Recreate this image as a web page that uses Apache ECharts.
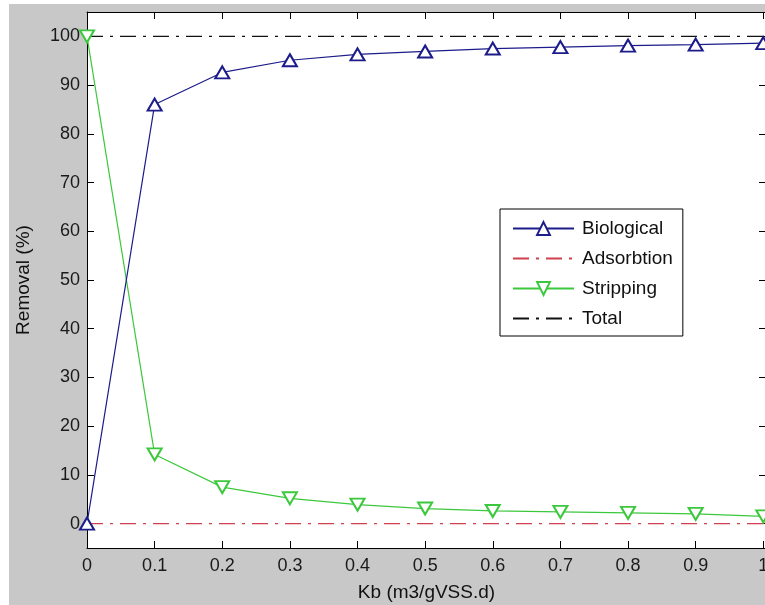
<!DOCTYPE html>
<html>
<head>
<meta charset="utf-8">
<title>Removal vs Kb</title>
<script src="https://cdn.jsdelivr.net/npm/echarts@6/dist/echarts.min.js"></script>
<style>
  html, body { margin: 0; padding: 0; background: #fff; }
  #chart { width: 765px; height: 605px; }
</style>
</head>
<body>
<div id="chart"></div>
<script>
var kb         = [0, 0.1, 0.2, 0.3, 0.4, 0.5, 0.6, 0.7, 0.8, 0.9, 1];
var biological = [0, 86.0, 92.6, 95.1, 96.3, 96.9, 97.5, 97.8, 98.1, 98.3, 98.6];
var adsorption = [0, 0, 0, 0, 0, 0, 0, 0, 0, 0, 0];
var stripping  = [100, 14.2, 7.5, 5.2, 3.9, 3.1, 2.6, 2.4, 2.2, 2.0, 1.5];
var total      = [100, 100, 100, 100, 100, 100, 100, 100, 100, 100, 100];

var xTicks  = [0, 0.1, 0.2, 0.3, 0.4, 0.5, 0.6, 0.7, 0.8, 0.9, 1];
var xLabels = ['0', '0.1', '0.2', '0.3', '0.4', '0.5', '0.6', '0.7', '0.8', '0.9', '1'];
var yTicks  = [0, 10, 20, 30, 40, 50, 60, 70, 80, 90, 100];

var font = 'Liberation Sans, Arial, sans-serif';
var dashDot = [16, 7, 3, 7];

function pairs(ys) {
  var out = [];
  for (var i = 0; i < kb.length; i++) out.push([kb[i], ys[i]]);
  return out;
}

function xLabel(v) {
  for (var i = 0; i < xTicks.length; i++) {
    if (Math.abs(xTicks[i] - v) < 1e-6) return xLabels[i];
  }
  return '';
}

var chart = echarts.init(document.getElementById('chart'), null, { renderer: 'canvas' });

// matlab style box: ticks inward on all four sides
var axisLine = { onZero: false, lineStyle: { color: '#000', width: 1 } };
var tickX = { inside: true, length: 7, customValues: xTicks, lineStyle: { color: '#000' } };
var tickY = { inside: true, length: 7, customValues: yTicks, lineStyle: { color: '#000' } };

var option = {
  backgroundColor: '#c8c8c8',
  animation: false,
  textStyle: { fontFamily: font },
  graphic: [
    { type: 'rect', left: 0, top: 0, shape: { width: 9, height: 605 }, style: { fill: '#fff' }, silent: true },
    { type: 'rect', left: 0, top: 0, shape: { width: 765, height: 4 }, style: { fill: '#fff' }, silent: true }
  ],
  grid: {
    left: 87, right: -1, top: 12, bottom: 57,
    outerBoundsMode: 'none',
    show: true, backgroundColor: '#fff', borderWidth: 0
  },
  legend: {
    orient: 'vertical',
    left: 500, top: 209,
    padding: [10, 10, 8, 12],
    itemGap: 11,
    itemWidth: 61,
    itemHeight: 16,
    backgroundColor: '#fff',
    borderColor: '#000',
    borderWidth: 1,
    textStyle: { fontSize: 19, color: '#111', lineHeight: 19, padding: [0, 0, 0, 3], fontFamily: font },
    data: [
      'Biological',
      { name: 'Adsorbtion', itemStyle: { opacity: 0 } },
      'Stripping',
      { name: 'Total', itemStyle: { opacity: 0 } }
    ]
  },
  xAxis: [{
    type: 'value', min: 0, max: 1.004,
    name: 'Kb (m3/gVSS.d)', nameLocation: 'middle', nameGap: 35,
    nameTextStyle: { fontSize: 19, color: '#111' },
    axisLine: axisLine,
    axisTick: tickX,
    axisLabel: { customValues: xTicks, formatter: xLabel, fontSize: 18, color: '#1a1a1a', margin: 9 },
    splitLine: { show: false }
  }, {
    type: 'value', min: 0, max: 1.004, position: 'top',
    axisLine: axisLine,
    axisTick: tickX,
    axisLabel: { show: false },
    splitLine: { show: false }
  }],
  yAxis: [{
    type: 'value', min: -5, max: 105,
    name: 'Removal (%)', nameLocation: 'middle', nameGap: 54,
    nameTextStyle: { fontSize: 19, color: '#111' },
    axisLine: axisLine,
    axisTick: tickY,
    axisLabel: { customValues: yTicks, fontSize: 18, color: '#1a1a1a', margin: 7 },
    splitLine: { show: false }
  }, {
    type: 'value', min: -5, max: 105, position: 'right',
    axisLine: axisLine,
    axisTick: tickY,
    axisLabel: { show: false },
    splitLine: { show: false }
  }],
  series: [{
    name: 'Biological',
    type: 'line',
    data: pairs(biological),
    symbol: 'emptyTriangle',
    symbolSize: [14, 12],
    lineStyle: { color: '#1c1c8a', width: 1.2 },
    itemStyle: { color: '#1c1c8a', borderWidth: 1.4 },
    z: 4
  }, {
    name: 'Adsorbtion',
    type: 'line',
    data: pairs(adsorption),
    symbol: 'none',
    lineStyle: { color: '#d0404f', width: 1.3, type: dashDot },
    itemStyle: { color: '#d0404f' },
    z: 2
  }, {
    name: 'Stripping',
    type: 'line',
    data: pairs(stripping),
    symbol: 'emptyTriangle',
    symbolRotate: 180,
    symbolSize: [14, 12],
    lineStyle: { color: '#3cc83c', width: 1.2 },
    itemStyle: { color: '#3cc83c', borderWidth: 1.4 },
    z: 3
  }, {
    name: 'Total',
    type: 'line',
    data: pairs(total),
    symbol: 'none',
    lineStyle: { color: '#111', width: 1.3, type: dashDot },
    itemStyle: { color: '#111' },
    z: 2
  }]
};

chart.setOption(option);
</script>
</body>
</html>
